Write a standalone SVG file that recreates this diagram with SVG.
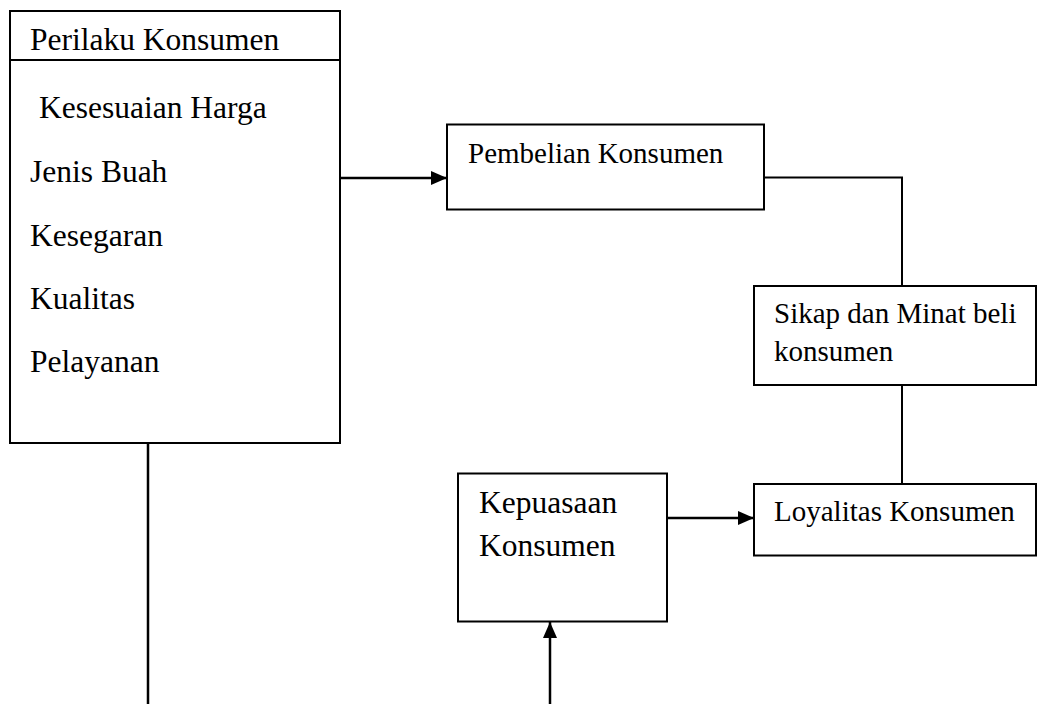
<svg xmlns="http://www.w3.org/2000/svg" width="1047" height="704" viewBox="0 0 1047 704">
<style>
.box{fill:#fff;stroke:#000;stroke-width:2}
.t{font-family:"Liberation Serif","Times New Roman",serif;fill:#000}
.lg{font-size:31.5px}
.sm{font-size:29px}
.ln{fill:none;stroke:#000;stroke-width:2}
.ar{fill:none;stroke:#000;stroke-width:2.5}
</style>
<defs>
<marker id="ah" markerWidth="16" markerHeight="14" refX="16" refY="7" orient="auto" markerUnits="userSpaceOnUse">
<path d="M0,0 L16,7 L0,14 Z" fill="#000"/>
</marker>
</defs>
<rect width="1047" height="704" fill="#fff"/>
<g id="connectors">
<line class="ar" x1="340" y1="178" x2="447" y2="178" marker-end="url(#ah)"/>
<polyline class="ln" points="764,177.5 902,177.5 902,286"/>
<line class="ln" x1="902" y1="385" x2="902" y2="484"/>
<line class="ar" x1="667" y1="518" x2="754" y2="518" marker-end="url(#ah)"/>
<line class="ar" x1="550" y1="704" x2="550" y2="622" marker-end="url(#ah)"/>
<line class="ar" x1="148" y1="443" x2="148" y2="704"/>
</g>
<g id="perilaku">
<rect class="box" x="10" y="11" width="330" height="432"/>
<line class="ln" x1="10" y1="60" x2="340" y2="60"/>
<text class="t lg" x="30" y="50">Perilaku Konsumen</text>
<text class="t lg" x="39" y="118">Kesesuaian Harga</text>
<text class="t lg" x="30" y="182">Jenis Buah</text>
<text class="t lg" x="30" y="246">Kesegaran</text>
<text class="t lg" x="30" y="309">Kualitas</text>
<text class="t lg" x="30" y="372">Pelayanan</text>
</g>
<g id="pembelian">
<rect class="box" x="447" y="124.5" width="317" height="85"/>
<text class="t sm" x="468" y="163">Pembelian Konsumen</text>
</g>
<g id="sikap">
<rect class="box" x="754" y="286" width="282" height="99"/>
<text class="t sm" x="774" y="323">Sikap dan Minat beli</text>
<text class="t sm" x="774" y="361">konsumen</text>
</g>
<g id="loyalitas">
<rect class="box" x="754" y="484" width="282" height="71.5"/>
<text class="t sm" x="774" y="521">Loyalitas Konsumen</text>
</g>
<g id="kepuasaan">
<rect class="box" x="458" y="473.5" width="209" height="148"/>
<text class="t lg" x="479" y="513">Kepuasaan</text>
<text class="t lg" x="479" y="556">Konsumen</text>
</g>
</svg>
